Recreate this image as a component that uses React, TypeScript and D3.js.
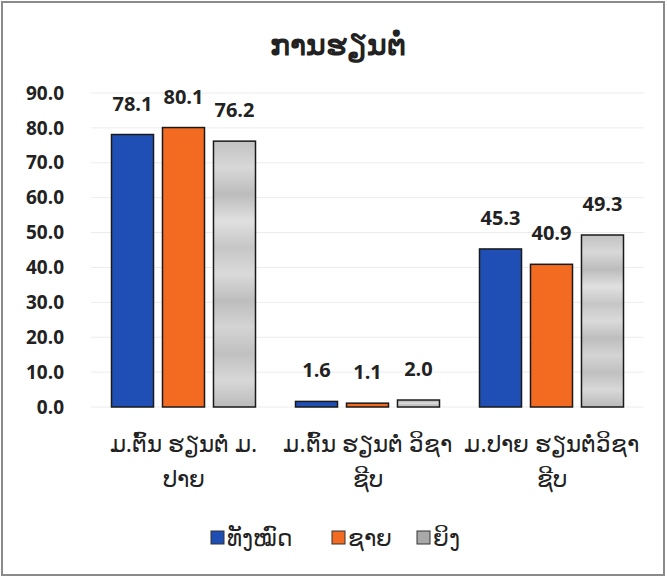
import React from "react";
import * as d3 from "d3";

const title = "ການຮຽນຕໍ່";
const categories = [
  ["ມ.ຕົ້ນ ຮຽນຕໍ່ ມ.", "ປາຍ"],
  ["ມ.ຕົ້ນ ຮຽນຕໍ່ ວິຊາ", "ຊີບ"],
  ["ມ.ປາຍ ຮຽນຕໍ່ວິຊາ", "ຊີບ"],
];
const seriesNames = ["ທັງໝົດ", "ຊາຍ", "ຍິງ"];
const totalValues = [78.1, 1.6, 45.3];
const maleValues = [80.1, 1.1, 40.9];
const femaleValues = [76.2, 2.0, 49.3];
const yTicks = [0, 10, 20, 30, 40, 50, 60, 70, 80, 90];

const colors = ["#1f4fb5", "#f26b21", "url(#grayGrad)"];
const legendColors = ["#1f4fb5", "#f26b21", "#a9a9a9"];

export default function App() {
  const W = 667, H = 580;
  const series = [totalValues, maleValues, femaleValues];
  const y = d3.scaleLinear().domain([0, 90]).range([407, 93]);
  const x0 = d3.scaleBand<number>().domain([0, 1, 2]).range([91.5, 643.5]).paddingInner(0).paddingOuter(0);
  const x1 = d3.scaleBand<number>().domain([0, 1, 2]).range([20, 164]).paddingInner(0.176).paddingOuter(0);
  const font = "'Open Sans', 'Noto Sans', sans-serif";
  const laoFont = "'Noto Sans', 'DejaVu Serif', serif";
  const grayStops = ["#c2c2c2", "#d8d8d8", "#bcbcbc", "#e0e0e0", "#c6c6c6", "#dadada", "#bdbdbd", "#d4d4d4", "#c0c0c0", "#d8d8d8", "#bababa"];

  return (
    <svg width={W} height={H} style={{ position: "absolute", left: 0, top: 0, background: "#fff" }}>
      <defs>
        <linearGradient id="grayGrad" x1="0" y1="0" x2="0" y2="1">
          {grayStops.map((c, i) => (
            <stop key={i} offset={i / (grayStops.length - 1)} stopColor={c} />
          ))}
        </linearGradient>
      </defs>
      <rect x={2} y={2} width={662} height={573} fill="#fff" stroke="#8a8a8a" strokeWidth={2} />
      <text x={338} y={55} textAnchor="middle" fontFamily={laoFont} fontSize={30} fontWeight={700} fill="#222">
        {title}
      </text>
      {yTicks.map((t) => (
        <g key={t}>
          <line x1={91} x2={644} y1={y(t)} y2={y(t)} stroke="#ececec" strokeWidth={1} />
          <text x={64} y={y(t)} dy="0.35em" textAnchor="end" fontFamily={font} fontWeight={700} fontSize={19} fill="#222">
            {t.toFixed(1)}
          </text>
        </g>
      ))}
      {categories.map((c, ci) => (
        <g key={ci} transform={`translate(${x0(ci)},0)`}>
          {series.map((s, si) => {
            const v = s[ci];
            const bx = x1(si)!;
            const bw = x1.bandwidth();
            return (
              <g key={si}>
                <rect x={bx} y={y(v)} width={bw} height={y(0) - y(v)} fill={colors[si]} stroke="#1a1a1a" strokeWidth={1.5} />
                <text x={bx + bw / 2} y={y(v) - 24} textAnchor="middle" fontFamily={font} fontWeight={700} fontSize={20} fill="#222">
                  {v.toFixed(1)}
                </text>
              </g>
            );
          })}
          {c.map((line, li) => (
            <text key={li} x={x0.bandwidth() / 2} y={452 + li * 35} textAnchor="middle" fontFamily={laoFont} fontSize={23} fill="#222">
              {line}
            </text>
          ))}
        </g>
      ))}
      {seriesNames.map((n, i) => {
        const lx = [211, 332, 417][i];
        return (
          <g key={i}>
            <rect x={lx} y={531} width={13} height={13} fill={legendColors[i]} stroke="#333" strokeWidth={1} />
            <text x={lx + 16} y={546} fontFamily={laoFont} fontSize={23} fill="#222">
              {n}
            </text>
          </g>
        );
      })}
    </svg>
  );
}
